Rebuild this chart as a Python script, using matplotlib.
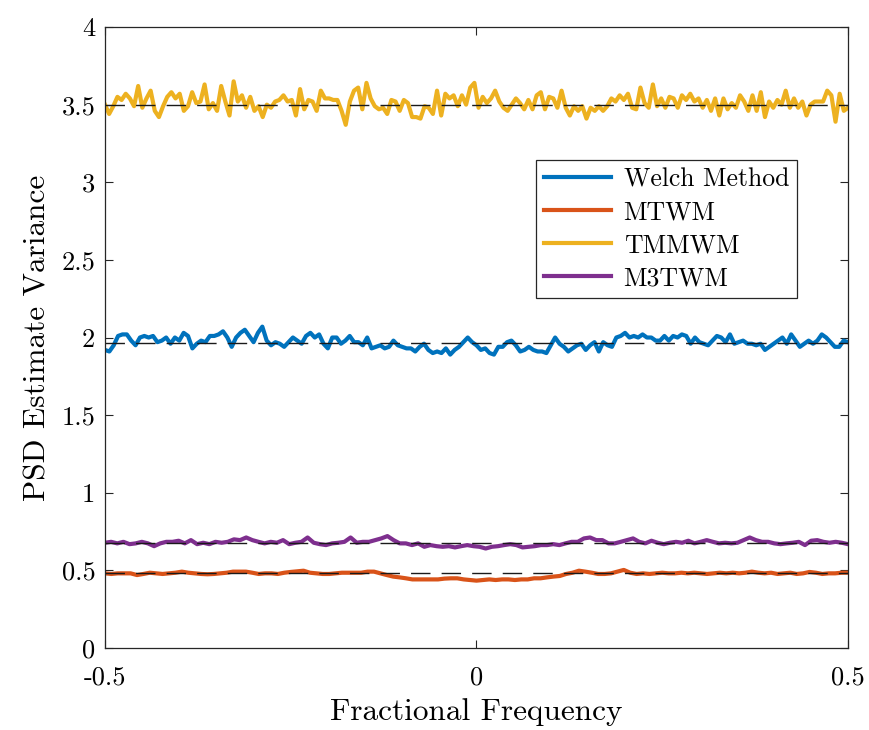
import numpy as np
import matplotlib
matplotlib.use('Agg')
import matplotlib.pyplot as plt

plt.rcParams['font.family'] = ['cmr10', 'DejaVu Serif']
plt.rcParams['mathtext.fontset'] = 'cm'
plt.rcParams['axes.formatter.use_mathtext'] = True

# PSD estimate variance per method, across fractional frequency
welch = [1.92, 1.91, 1.95, 2.01, 2.02, 2.02, 1.98, 1.95, 2.00, 2.01, 2.00, 2.01, 1.97, 1.98, 2.00,
         1.96, 2.00, 1.98, 2.03, 2.01, 1.93, 1.96, 1.98, 1.97, 2.01, 2.01, 2.02, 2.04, 2.00, 1.94,
         2.00, 2.03, 2.05, 2.01, 1.97, 2.03, 2.07, 1.98, 1.95, 1.97, 1.96, 1.94, 1.97, 2.00, 1.98,
         1.96, 2.01, 2.03, 2.00, 2.02, 1.96, 1.93, 2.00, 2.00, 1.96, 1.98, 2.01, 1.97,
         1.97, 1.95, 2.00, 1.93, 1.94, 1.95, 1.93, 1.94, 1.98, 1.95, 1.94, 1.93, 1.93, 1.91, 1.94,
         1.96, 1.92, 1.90, 1.91, 1.90, 1.93, 1.89, 1.92, 1.94, 1.97, 2.00, 1.97, 1.95, 1.92, 1.93,
         1.90, 1.89, 1.94, 1.94, 1.97, 1.98, 1.95, 1.91, 1.92, 1.94, 1.92, 1.91, 1.91, 1.90, 1.95,
         2.00, 1.96, 1.94, 1.91, 1.93, 1.95, 1.96, 1.92, 1.95, 1.97, 1.91, 1.97,
         1.95, 1.94, 2.00, 2.01, 2.03, 2.00, 2.01, 2.00, 2.02, 2.00, 2.00, 1.98, 1.98, 2.01, 1.98,
         2.01, 2.00, 2.02, 2.01, 1.96, 2.00, 1.97, 1.96, 1.95, 1.98, 2.01, 2.00, 1.97, 2.02, 1.96,
         1.97, 1.98, 1.96, 1.96, 1.95, 1.96, 1.92, 1.94, 1.96, 1.98, 2.00, 1.96, 2.02, 1.98, 1.94,
         1.96, 1.98, 1.96, 1.98, 2.02, 2.00, 1.97, 1.94, 1.94, 1.98, 1.97]

mtwm = [0.481, 0.477, 0.481, 0.481, 0.481, 0.470, 0.477, 0.485, 0.481, 0.477, 0.481, 0.485, 0.492,
        0.485, 0.481, 0.477, 0.475, 0.477, 0.481, 0.485, 0.492, 0.492, 0.492, 0.485, 0.477, 0.481,
        0.481, 0.477, 0.485, 0.490, 0.494, 0.498, 0.485, 0.481, 0.477, 0.477, 0.481, 0.485, 0.485,
        0.485, 0.485, 0.492, 0.492, 0.481, 0.470, 0.460, 0.455, 0.449, 0.442, 0.442, 0.442, 0.442,
        0.442, 0.447, 0.449, 0.449, 0.442, 0.438, 0.434, 0.438, 0.442, 0.438, 0.442, 0.442, 0.438,
        0.442, 0.442, 0.449, 0.449, 0.455, 0.460, 0.464, 0.477, 0.485, 0.498, 0.492, 0.485, 0.477,
        0.477, 0.481, 0.492, 0.503, 0.485, 0.477, 0.481, 0.477, 0.481, 0.485, 0.481, 0.481, 0.485,
        0.481, 0.485, 0.481, 0.477, 0.481, 0.485, 0.481, 0.485, 0.481, 0.485, 0.492, 0.485, 0.481,
        0.485, 0.477, 0.481, 0.485, 0.477, 0.481, 0.490, 0.485, 0.477, 0.481, 0.481, 0.485, 0.485]

tmmwm = [3.50, 3.44, 3.49, 3.55, 3.53, 3.57, 3.54, 3.49, 3.62, 3.48, 3.54, 3.59, 3.46, 3.42, 3.49,
         3.55, 3.58, 3.54, 3.57, 3.46, 3.49, 3.58, 3.51, 3.52, 3.63, 3.47, 3.51, 3.46, 3.62, 3.52,
         3.43, 3.65, 3.52, 3.56, 3.48, 3.55, 3.46, 3.49, 3.42, 3.50, 3.48, 3.52, 3.53, 3.56, 3.52,
         3.53, 3.43, 3.60, 3.47, 3.53, 3.52, 3.46, 3.59, 3.54,
         3.54, 3.53, 3.53, 3.46, 3.37, 3.52, 3.59, 3.61, 3.47, 3.64, 3.54, 3.49, 3.47, 3.48, 3.44,
         3.53, 3.52, 3.46, 3.53, 3.51, 3.42, 3.42, 3.41, 3.49, 3.48, 3.44, 3.59, 3.43, 3.57, 3.54,
         3.56, 3.49, 3.56, 3.50, 3.61, 3.64, 3.48, 3.55, 3.51, 3.54, 3.59, 3.52, 3.48, 3.46, 3.50,
         3.54, 3.51, 3.47, 3.53, 3.47, 3.56, 3.58, 3.47, 3.55, 3.54, 3.48, 3.59, 3.48, 3.43, 3.49,
         3.46, 3.49, 3.41, 3.48, 3.46,
         3.49, 3.46, 3.49, 3.54, 3.52, 3.56, 3.53, 3.57, 3.48, 3.47, 3.61, 3.51, 3.48, 3.63, 3.49,
         3.54, 3.48, 3.55, 3.54, 3.48, 3.56, 3.53, 3.57, 3.52, 3.54, 3.48, 3.53, 3.46, 3.54, 3.43,
         3.54, 3.47, 3.51, 3.48, 3.56, 3.52, 3.46, 3.56, 3.46, 3.58, 3.42, 3.52, 3.48, 3.53, 3.50,
         3.59, 3.48, 3.54, 3.48, 3.52, 3.43, 3.50, 3.52, 3.52, 3.52, 3.59, 3.56, 3.39, 3.57, 3.46,
         3.48]

m3twm = [0.678, 0.684, 0.674, 0.684, 0.669, 0.674, 0.684, 0.674, 0.656, 0.674, 0.684, 0.684, 0.691,
         0.674, 0.695, 0.669, 0.678, 0.669, 0.684, 0.678, 0.684, 0.700, 0.695, 0.712, 0.695, 0.684,
         0.674, 0.684, 0.678, 0.695, 0.669, 0.678, 0.684, 0.712, 0.678, 0.669, 0.663, 0.674, 0.678,
         0.684, 0.712, 0.678,
         0.684, 0.684, 0.695, 0.706, 0.721, 0.695, 0.674, 0.674, 0.663, 0.674, 0.652, 0.663, 0.656,
         0.652, 0.656, 0.648, 0.656, 0.663, 0.656, 0.652, 0.641, 0.652, 0.656, 0.663, 0.669, 0.663,
         0.648, 0.652, 0.656, 0.663, 0.663, 0.669, 0.663, 0.674, 0.684, 0.684, 0.706, 0.712, 0.695,
         0.695, 0.674,
         0.674, 0.684, 0.695, 0.706, 0.684, 0.674, 0.691, 0.678, 0.669, 0.678, 0.684, 0.678, 0.691,
         0.674, 0.684, 0.695, 0.684, 0.674, 0.678, 0.674, 0.678, 0.695, 0.712, 0.695, 0.684, 0.684,
         0.674, 0.669, 0.674, 0.678, 0.684, 0.663, 0.691, 0.695, 0.684, 0.678, 0.684, 0.678, 0.669]

# theoretical variance levels (dashed)
theory = [1.963, 0.481, 3.50, 0.678]

series = [welch, mtwm, tmmwm, m3twm]
labels = ['Welch Method', 'MTWM', 'TMMWM', 'M3TWM']
colors = ['#0072BD', '#D95319', '#EDB120', '#7E2F8E']

fig = plt.figure(figsize=(8.69, 7.30), dpi=100)
ax = fig.add_axes([0.1208, 0.1123, 0.8550, 0.8507])

for y, lab, c in zip(series, labels, colors):
    f = np.linspace(-0.5, 0.5, len(y))
    ax.plot(f, y, '-', color=c, lw=3.0, label=lab, solid_joinstyle='round')

for lvl in theory:
    ax.plot([-0.5, 0.5], [lvl, lvl], color='#1a1a1a', lw=1.0, dashes=(14, 8))

ax.set_xlim(-0.5, 0.5)
ax.set_ylim(0, 4)
ax.set_xticks([-0.5, 0, 0.5])
ax.set_xticklabels(['-0.5', '0', '0.5'])
ax.set_yticks(np.arange(0, 4.01, 0.5))
ax.set_yticklabels(['0', '0.5', '1', '1.5', '2', '2.5', '3', '3.5', '4'])
ax.tick_params(direction='in', length=6, width=0.8, labelsize=19, color='#262626',
               top=True, right=True)
ax.tick_params(axis='x', pad=13)
ax.tick_params(axis='y', pad=7)
for s in ax.spines.values():
    s.set_color('#262626')
    s.set_linewidth(0.9)

ax.set_xlabel('Fractional Frequency', fontsize=22.5, labelpad=6)
ax.set_ylabel('PSD Estimate Variance', fontsize=22.5, labelpad=7)

leg = ax.legend(loc='upper right', bbox_to_anchor=(0.931, 0.786), borderaxespad=0,
                fontsize=18.5, handlelength=2.6, fancybox=False, framealpha=1,
                edgecolor='#262626', labelspacing=0.36, borderpad=0.3, handletextpad=0.5)
leg.get_frame().set_linewidth(0.9)

fig.savefig('out.png', dpi=100)
